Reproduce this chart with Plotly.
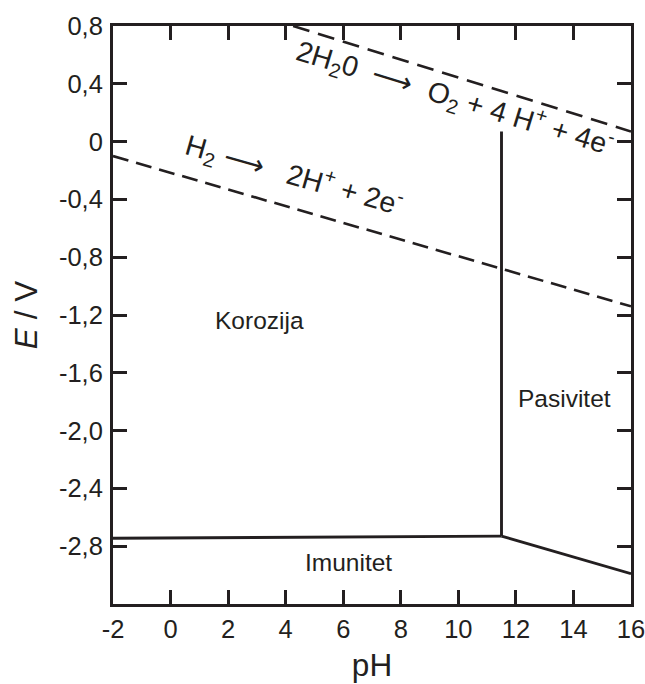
import plotly.graph_objects as go

# Reaction lines (dashed)
o2_ph = [4.26, 16.0]
o2_e = [0.80, 0.07]
h2_ph = [-2.0, 16.0]
h2_e = [-0.10, -1.14]

# Region boundaries (solid)
vert_ph = [11.5, 11.5]
vert_e = [0.07, -2.73]
horiz_ph = [-2.0, 11.5]
horiz_e = [-2.745, -2.73]
slope_ph = [11.5, 16.0]
slope_e = [-2.73, -2.99]

# Tick labels
x_ticks = [-2, 0, 2, 4, 6, 8, 10, 12, 14, 16]
y_ticks = [0.8, 0.4, 0.0, -0.4, -0.8, -1.2, -1.6, -2.0, -2.4, -2.8]
y_ticktext = ["0,8", "0,4", "0", "-0,4", "-0,8", "-1,2", "-1,6", "-2,0", "-2,4", "-2,8"]

# Region labels
region_names = ["Korozija", "Pasivitet", "Imunitet"]
region_ph = [3.1, 13.7, 6.2]
region_e = [-1.24, -1.78, -2.91]

FONT = "Liberation Sans, Arial, sans-serif"
BLACK = "#231f20"

fig = go.Figure()
for xs, ys, dash, w in [
    (o2_ph, o2_e, "17px,9px", 2.6),
    (h2_ph, h2_e, "16px,8px", 2.6),
    (vert_ph, vert_e, "solid", 2.9),
    (horiz_ph, horiz_e, "solid", 2.9),
    (slope_ph, slope_e, "solid", 2.9),
]:
    fig.add_trace(go.Scatter(x=xs, y=ys, mode="lines",
                             line=dict(color=BLACK, width=w, dash=dash),
                             showlegend=False, hoverinfo="skip", cliponaxis=True))

for name, px, py in zip(region_names, region_ph, region_e):
    fig.add_annotation(x=px, y=py, text=name, showarrow=False,
                       font=dict(family=FONT, size=24.5, color=BLACK))

fig.add_annotation(x=9.9, y=0.30,
                   text="2H<sub>2</sub>0  \u27f6  O<sub>2</sub> + 4 H<sup>+</sup> + 4e<sup>-</sup>",
                   showarrow=False, textangle=17,
                   font=dict(family=FONT, size=28.5, color=BLACK))
fig.add_annotation(x=4.3, y=-0.23,
                   text="H<sub>2</sub> \u27f6   2H<sup>+</sup> + 2e<sup>-</sup>",
                   showarrow=False, textangle=16,
                   font=dict(family=FONT, size=28.5, color=BLACK))

axis_common = dict(showline=True, linecolor=BLACK, linewidth=3, mirror="allticks",
                   ticks="inside", ticklen=14, tickwidth=2.6, tickcolor=BLACK,
                   showgrid=False, zeroline=False, ticklabeloverflow="allow",
                   tickfont=dict(family=FONT, size=25.5, color=BLACK))

fig.update_xaxes(range=[-2, 16], tickvals=x_ticks, ticktext=[str(v) for v in x_ticks],
                 ticklabelstandoff=0,
                 title=dict(text="pH", font=dict(family=FONT, size=31.5, color=BLACK), standoff=13),
                 **axis_common)
fig.update_yaxes(range=[-3.2, 0.8], tickvals=y_ticks, ticktext=y_ticktext,
                 ticklabelstandoff=2,
                 title=dict(text="<i>E</i> / V", font=dict(family=FONT, size=31.5, color=BLACK), standoff=12),
                 **axis_common)

fig.update_layout(width=657, height=697, margin=dict(l=113, r=14, t=25, b=93),
                  plot_bgcolor="white", paper_bgcolor="white")

fig.write_html("out.html", config={"displayModeBar": False},
               post_script="document.body.style.margin='0';document.body.style.overflow='hidden';")
